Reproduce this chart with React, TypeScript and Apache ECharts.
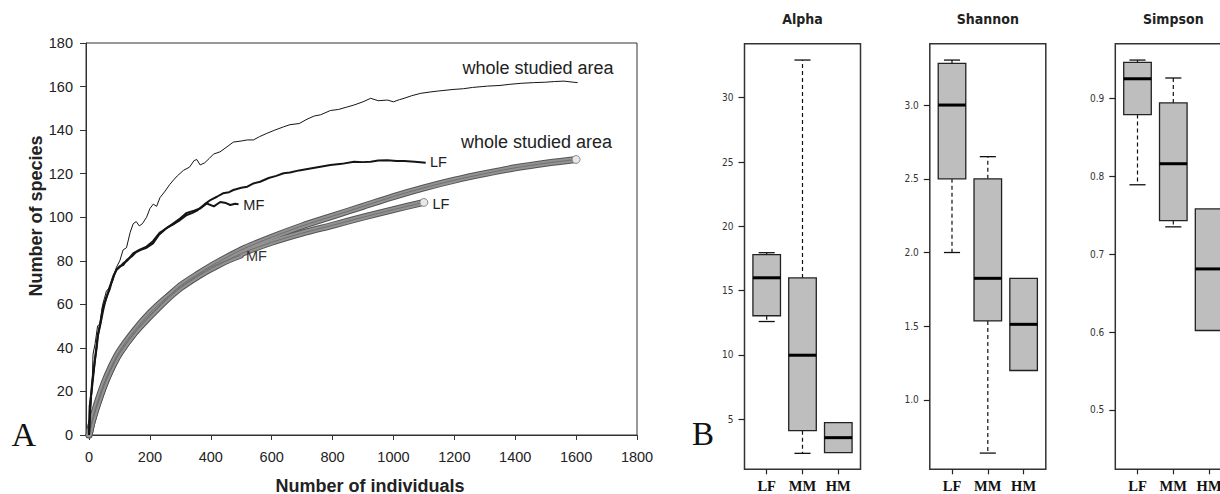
import React, { useEffect, useRef } from "react";
import * as echarts from "echarts";

// ---------- Panel A data ----------
const xTicks = [0, 200, 400, 600, 800, 1000, 1200, 1400, 1600, 1800];
const yTicks = [0, 20, 40, 60, 80, 100, 120, 140, 160, 180];

const wholeObserved: number[][] = [
  [0, 0], [5, 10], [10, 22], [13, 37], [20, 42], [28, 50], [35, 51], [45, 60], [57, 66], [68, 68],
  [79, 71], [90, 77], [101, 80], [112, 85], [123, 86], [135, 93], [145, 97], [155, 98], [165, 96],
  [175, 97], [189, 100], [200, 104], [211, 106], [222, 105], [233, 109], [250, 112], [265, 115],
  [277, 117], [290, 119], [310, 121.5], [330, 123], [345, 126], [354, 126.5], [365, 124], [380, 125],
  [395, 127], [409, 129], [430, 130], [450, 132], [474, 134.5], [500, 135], [520, 135.5], [540, 135.5],
  [560, 137], [584, 138.5], [610, 140], [639, 141.5], [660, 142.5], [690, 143], [716, 145], [740, 146.5],
  [760, 147], [793, 149], [820, 149.5], [845, 150.5], [870, 151.5], [900, 153], [925, 154.6], [950, 153.5],
  [980, 153.8], [1000, 153], [1020, 154], [1035, 154.6], [1060, 155.8], [1090, 156.9], [1120, 157.5],
  [1150, 158], [1199, 158.7], [1230, 159], [1260, 159.6], [1309, 160.2], [1350, 160.5], [1380, 161],
  [1420, 161.5], [1460, 161.8], [1500, 162], [1529, 162.3], [1560, 162.5], [1590, 162], [1605, 161.8],
];

const lfObserved: number[][] = [
  [0, 0], [2, 13], [10, 22], [19, 34], [25, 40], [30, 46.7], [38, 52], [46, 59], [55, 62], [68, 68],
  [78, 72], [90, 75.8], [100, 77], [112, 78.8], [125, 80], [145, 83.4], [165, 85], [189, 86.5], [210, 89],
  [233, 93], [244, 94], [260, 95.5], [280, 97], [299, 98.7], [321, 101], [340, 102], [354, 103], [380, 106],
  [400, 108], [420, 109.4], [440, 111], [460, 111.5], [474, 112.5], [500, 113.5], [520, 114], [540, 115.5],
  [562, 116.3], [590, 118], [615, 119], [639, 120.2], [660, 120.5], [690, 121.5], [727, 122.4], [760, 123.2],
  [793, 124], [830, 124.5], [870, 125.5], [900, 125.3], [925, 125.5], [950, 126], [980, 126.2], [1010, 125.8],
  [1035, 125.8], [1070, 125.5], [1106, 125],
];

const mfObserved: number[][] = [
  [0, 0], [3, 12], [10, 24], [18, 33], [28, 45], [36, 50], [46, 57], [56, 63], [68, 67], [80, 73],
  [90, 76], [101, 77.5], [112, 78], [125, 80.5], [140, 82], [155, 84], [170, 85], [189, 86], [210, 88],
  [230, 92], [255, 95], [275, 97], [300, 99.5], [321, 102], [345, 103], [365, 104], [387, 106.3],
  [410, 105], [431, 107], [450, 106.5], [464, 105.6], [480, 106.2], [491, 106],
];

const wholeRarefied: number[][] = [
  [0, 0], [10, 6], [25, 13], [50, 23], [75, 31], [100, 37.5], [150, 47], [200, 55], [250, 62],
  [300, 68.5], [365, 74.5], [400, 77.5], [500, 85], [600, 90.8], [700, 96], [800, 100.5], [900, 105],
  [1000, 109.5], [1100, 113.5], [1200, 117], [1300, 120], [1400, 122.7], [1500, 124.8], [1600, 126.5],
];

const lfRarefied: number[][] = [
  [0, 0], [10, 6], [25, 13], [50, 23], [75, 31], [100, 37.5], [150, 47], [200, 54.5], [250, 61.5],
  [300, 67.5], [365, 73.5], [400, 76.3], [500, 83.3], [600, 88.5], [700, 92.7], [800, 96.3], [900, 100],
  [1000, 103.5], [1100, 106.8],
];

const mfRarefied: number[][] = [
  [0, 0], [10, 6.5], [25, 14], [50, 24], [75, 32], [100, 38.5], [150, 48], [200, 56], [250, 62.5],
  [300, 68], [365, 74], [400, 77], [450, 80], [497, 82.5],
];

// ---------- Panel B data ----------
const groups = ["LF", "MM", "HM"];
const panelTitles = ["Alpha", "Shannon", "Simpson"];
// [lower whisker, Q1, median, Q3, upper whisker]
const alphaStats = [
  [12.6, 13.05, 16.0, 17.8, 17.95],
  [2.35, 4.11, 9.98, 15.99, 32.93],
  [2.4, 2.4, 3.57, 4.74, 4.74],
];
const shannonStats = [
  [2.0, 2.5, 3.0, 3.283, 3.305],
  [0.64, 1.536, 1.825, 2.5, 2.65],
  [1.2, 1.2, 1.513, 1.825, 1.825],
];
const simpsonStats = [
  [0.789, 0.879, 0.925, 0.946, 0.949],
  [0.735, 0.743, 0.816, 0.894, 0.926],
  [0.602, 0.602, 0.681, 0.758, 0.758],
];
const alphaTicks = [5, 10, 15, 20, 25, 30];
const shannonTicks = [1.0, 1.5, 2.0, 2.5, 3.0];
const simpsonTicks = [0.5, 0.6, 0.7, 0.8, 0.9];

const SANS = "'Liberation Sans', Arial, Helvetica, sans-serif";
const NARROW =
  "'Liberation Sans Narrow', 'Arial Narrow', 'DejaVu Sans Condensed', 'Liberation Sans', Arial, sans-serif";
const SERIF = "'Liberation Serif', 'Times New Roman', serif";

function boxRenderer(params: any, api: any) {
  const i = api.value(0);
  const mn = api.value(1);
  const q1 = api.value(2);
  const md = api.value(3);
  const q3 = api.value(4);
  const mx = api.value(5);
  const c = (v: number) => api.coord([i, v]);
  const halfW = api.size([0.77, 0])[0] / 2;
  const capW = api.size([0.45, 0])[0] / 2;
  const cx = c(md)[0];
  const children: any[] = [];
  const whisker = (from: number, to: number) => {
    const a = c(from);
    const b = c(to);
    children.push({
      type: "line",
      shape: { x1: cx, y1: a[1], x2: cx, y2: b[1] },
      style: { stroke: "#111", lineWidth: 1.2, lineDash: [4, 3] },
    });
    children.push({
      type: "line",
      shape: { x1: cx - capW, y1: b[1], x2: cx + capW, y2: b[1] },
      style: { stroke: "#111", lineWidth: 1.3 },
    });
  };
  if (mx > q3) whisker(q3, mx);
  if (mn < q1) whisker(q1, mn);
  const top = c(q3)[1];
  const bot = c(q1)[1];
  children.push({
    type: "rect",
    shape: { x: cx - halfW, y: top, width: halfW * 2, height: bot - top },
    style: { fill: "#bebebe", stroke: "#222", lineWidth: 1.3 },
  });
  const m = c(md)[1];
  children.push({
    type: "line",
    shape: { x1: cx - halfW, y1: m, x2: cx + halfW, y2: m },
    style: { stroke: "#000", lineWidth: 3 },
  });
  return { type: "group", children };
}

function buildOption() {
  const boxGrids = [
    { left: 744.5, title: 802.5 },
    { left: 929.8, title: 987.8 },
    { left: 1115.3, title: 1173.3 },
  ];
  const statsList = [alphaStats, shannonStats, simpsonStats];
  const tickList = [alphaTicks, shannonTicks, simpsonTicks];
  const yRanges = [
    [1.11, 34.2],
    [0.53, 3.416],
    [0.4239, 0.97],
  ];
  const decimals = [0, 1, 1];

  const grid: any[] = [
    { left: 86, top: 43, width: 551, height: 392, show: true, borderColor: "#333", borderWidth: 1 },
  ];
  const xAxis: any[] = [
    {
      type: "value",
      gridIndex: 0,
      min: -10,
      max: 1800,
      axisLine: { show: true, onZero: false, lineStyle: { color: "#333", width: 1 } },
      axisTick: { show: true, length: 5, customValues: xTicks, lineStyle: { color: "#333" } },
      axisLabel: {
        customValues: xTicks,
        formatter: (v: number) => String(v),
        margin: 14,
        fontSize: 14.5,
        color: "#222",
        fontFamily: SANS,
      },
      splitLine: { show: false },
    },
  ];
  const yAxis: any[] = [
    {
      type: "value",
      gridIndex: 0,
      min: 0,
      max: 180,
      axisLine: { show: true, onZero: false, lineStyle: { color: "#333", width: 1 } },
      axisTick: { show: true, length: 6, customValues: yTicks, lineStyle: { color: "#333" } },
      axisLabel: {
        customValues: yTicks,
        formatter: (v: number) => String(v),
        margin: 13,
        fontSize: 14.5,
        color: "#222",
        fontFamily: SANS,
      },
      splitLine: { show: false },
    },
  ];

  boxGrids.forEach((g, k) => {
    grid.push({
      left: g.left,
      top: 43.7,
      width: 116,
      height: 425.6,
      show: true,
      borderColor: "#333",
      borderWidth: 1.5,
    });
    xAxis.push({
      type: "value",
      gridIndex: k + 1,
      min: 0.38,
      max: 3.62,
      axisLine: { show: false, onZero: false },
      axisTick: { show: true, length: 5, customValues: [1, 2, 3], lineStyle: { color: "#222", width: 1.2 } },
      axisLabel: {
        customValues: [1, 2, 3],
        formatter: (v: number) => groups[Math.round(v) - 1] ?? "",
        margin: 9,
        fontSize: 14.5,
        fontWeight: "bold",
        color: "#111",
        fontFamily: SERIF,
      },
      splitLine: { show: false },
    });
    yAxis.push({
      type: "value",
      gridIndex: k + 1,
      min: yRanges[k][0],
      max: yRanges[k][1],
      axisLine: { show: false, onZero: false },
      axisTick: { show: true, length: 6, customValues: tickList[k], lineStyle: { color: "#222", width: 1.2 } },
      axisLabel: {
        customValues: tickList[k],
        formatter: (v: number) => v.toFixed(decimals[k]),
        margin: 11,
        fontSize: 10,
        color: "#333",
        fontFamily: NARROW,
      },
      splitLine: { show: false },
    });
  });

  const band = (data: number[][], name: string) => [
    {
      type: "line",
      name: name + "-outer",
      xAxisIndex: 0,
      yAxisIndex: 0,
      data,
      showSymbol: false,
      symbol: "none",
      smooth: 0.3,
      lineStyle: { color: "#555", width: 7, cap: "round" },
      z: 2,
    },
    {
      type: "line",
      name: name + "-inner",
      xAxisIndex: 0,
      yAxisIndex: 0,
      data,
      showSymbol: false,
      symbol: "none",
      smooth: 0.3,
      lineStyle: { color: "#929292", width: 5, cap: "round" },
      z: 3,
    },
    {
      type: "line",
      name: name + "-center",
      xAxisIndex: 0,
      yAxisIndex: 0,
      data,
      showSymbol: false,
      symbol: "none",
      smooth: 0.3,
      lineStyle: { color: "#707070", width: 1 },
      z: 4,
    },
  ];

  const observed = (data: number[][], name: string, width: number) => ({
    type: "line",
    name,
    xAxisIndex: 0,
    yAxisIndex: 0,
    data,
    showSymbol: false,
    symbol: "none",
    lineStyle: { color: "#151515", width },
    z: 6,
  });

  const series: any[] = [
    ...band(mfRarefied, "MF rarefied"),
    ...band(lfRarefied, "LF rarefied"),
    ...band(wholeRarefied, "whole rarefied"),
    {
      type: "scatter",
      xAxisIndex: 0,
      yAxisIndex: 0,
      data: [wholeRarefied[wholeRarefied.length - 1], lfRarefied[lfRarefied.length - 1]],
      symbolSize: 8,
      itemStyle: { color: "#ffffff", borderColor: "#777", borderWidth: 1 },
      z: 5,
    },
    observed(wholeObserved, "whole observed", 1),
    observed(lfObserved, "LF observed", 2),
    observed(mfObserved, "MF observed", 2),
  ];

  statsList.forEach((stats, k) => {
    series.push({
      type: "custom",
      xAxisIndex: k + 1,
      yAxisIndex: k + 1,
      data: stats.map((s, idx) => [idx + 1, ...s]),
      encode: { x: 0, y: [1, 2, 3, 4, 5] },
      renderItem: boxRenderer,
      clip: false,
      z: 5,
    });
  });

  const txt = (
    text: string,
    x: number,
    y: number,
    font: string,
    size: number,
    weight: string,
    align: string,
    fill = "#222",
    rotation = 0
  ) => ({
    type: "text",
    x,
    y,
    rotation,
    style: {
      text,
      fontFamily: font,
      fontSize: size,
      fontWeight: weight,
      fill,
      align,
      verticalAlign: "middle",
    },
    z: 10,
  });

  const graphic: any[] = [
    txt("whole studied area", 462.5, 67.7, SANS, 18, "normal", "left"),
    txt("whole studied area", 461, 141.7, SANS, 18, "normal", "left"),
    txt("LF", 430, 161.7, SANS, 14.5, "normal", "left"),
    txt("LF", 432.5, 204, SANS, 14.5, "normal", "left"),
    txt("MF", 243.3, 205, SANS, 14.5, "normal", "left"),
    txt("MF", 246, 256, SANS, 14.5, "normal", "left", "#333"),
    txt("Number of species", 36, 216, SANS, 18, "bold", "center", "#222", Math.PI / 2),
    txt("Number of individuals", 370, 485.5, SANS, 18, "bold", "center"),
    txt("A", 11.5, 434, SERIF, 34, "normal", "left", "#111"),
    txt("B", 692, 434.2, SERIF, 33, "normal", "left", "#111"),
    ...boxGrids.map((g, k) => txt(panelTitles[k], g.title, 19.3, NARROW, 14, "bold", "center", "#222")),
  ];

  return {
    animation: false,
    backgroundColor: "#ffffff",
    grid,
    xAxis,
    yAxis,
    series,
    graphic,
  };
}

export default function App() {
  const ref = useRef<HTMLDivElement>(null);
  useEffect(() => {
    document.body.style.margin = "0";
    const chart = echarts.init(ref.current!, null, { renderer: "svg" });
    chart.setOption(buildOption() as any);
    return () => chart.dispose();
  }, []);
  return (
    <div style={{ width: 1220, height: 494, overflow: "hidden", position: "relative" }}>
      <div ref={ref} style={{ width: 1250, height: 494 }} />
    </div>
  );
}
